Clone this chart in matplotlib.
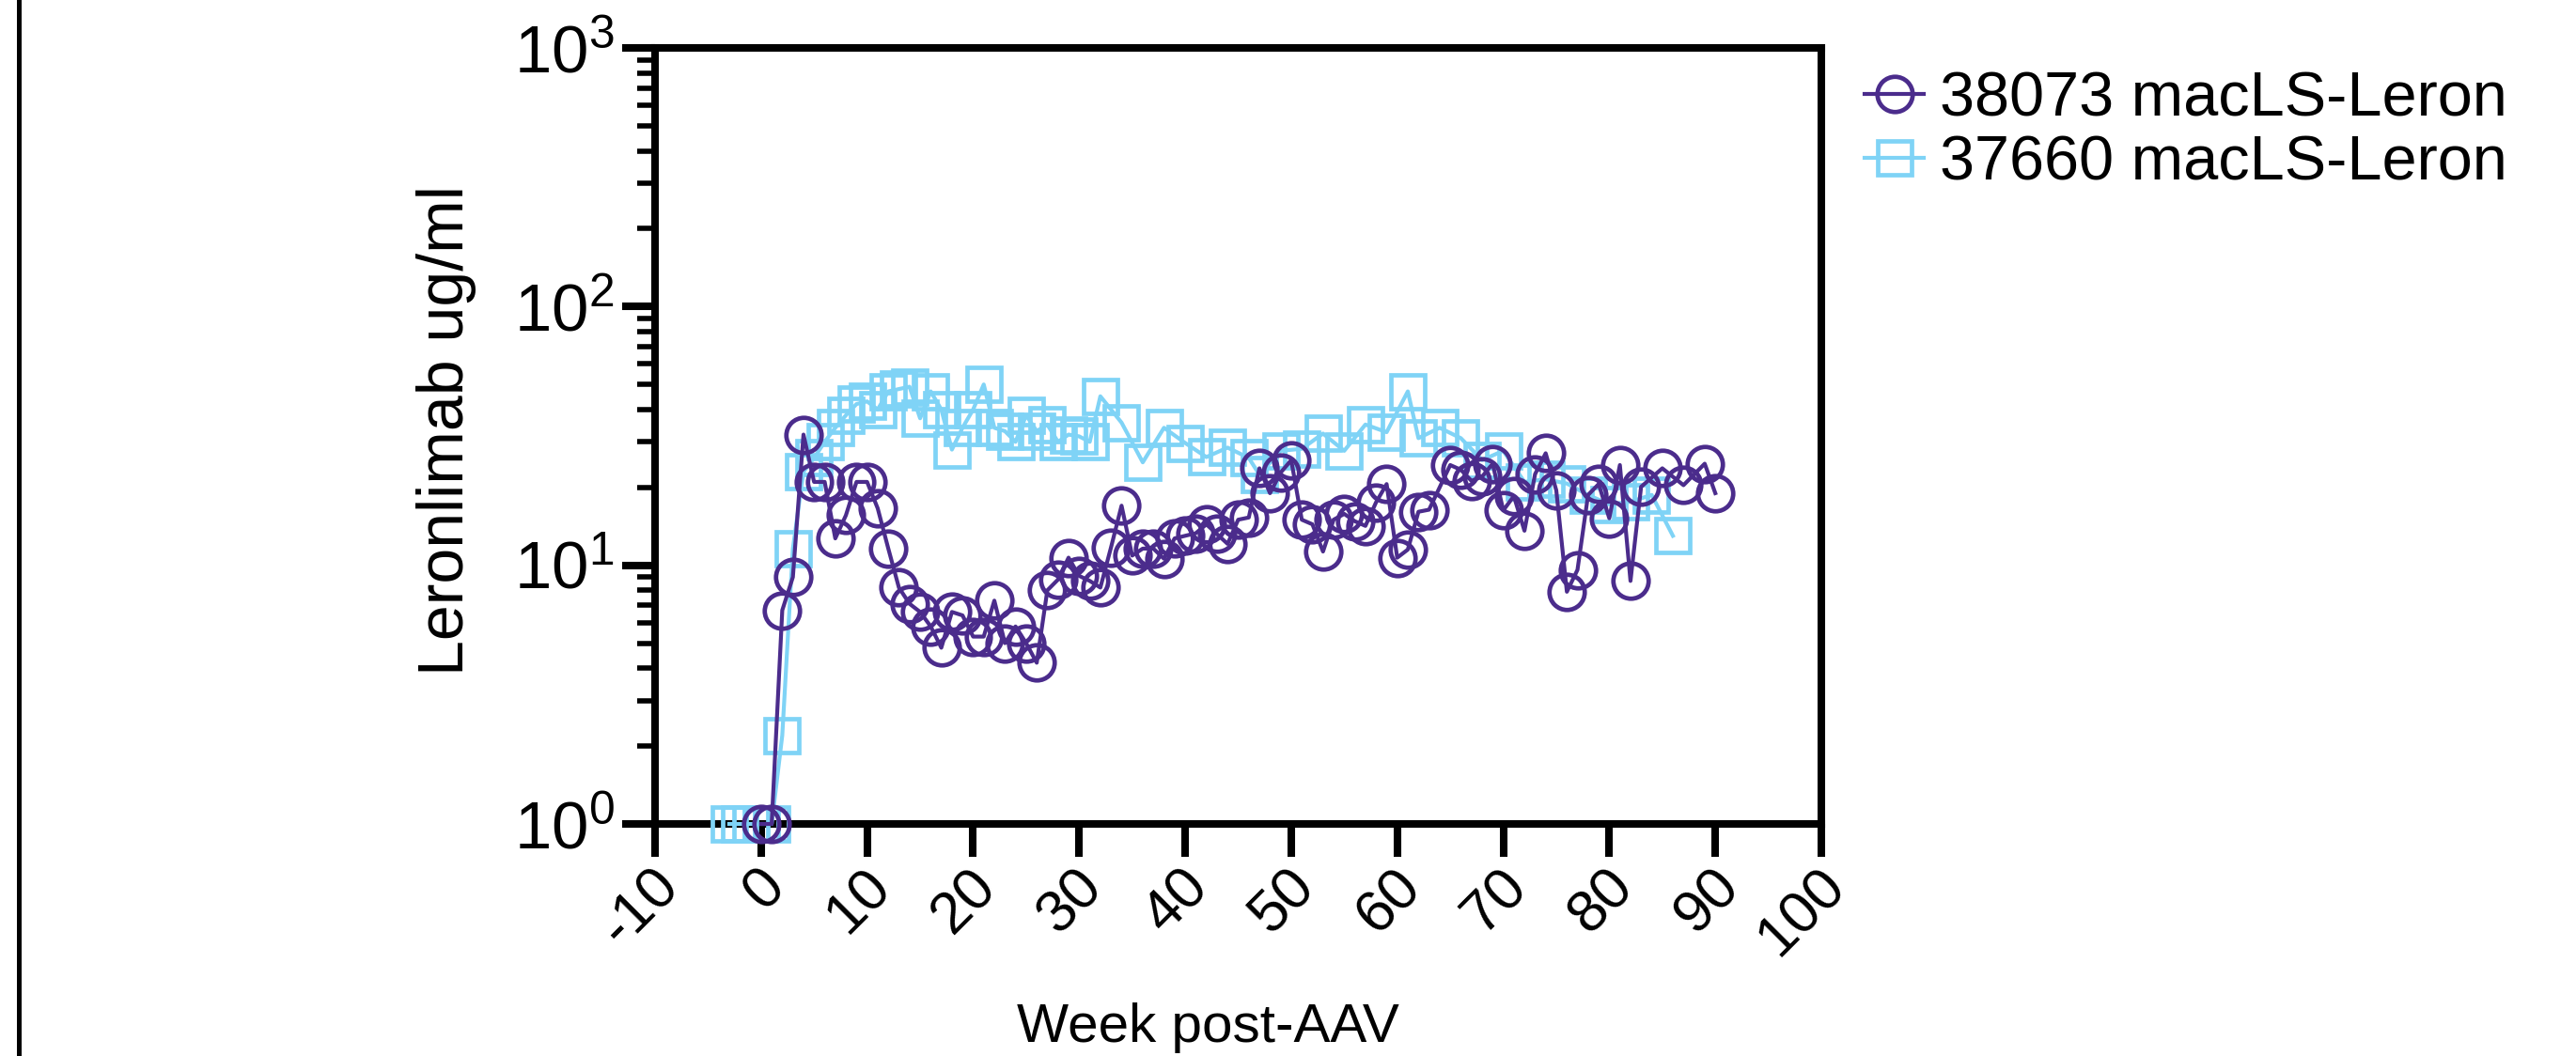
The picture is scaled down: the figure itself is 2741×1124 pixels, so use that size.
import matplotlib
matplotlib.use("Agg")
import matplotlib.pyplot as plt
from matplotlib.lines import Line2D
from matplotlib.transforms import ScaledTranslation
from matplotlib.ticker import FixedLocator, LogLocator, NullFormatter

# ---------------- data ----------------
series_names = ["38073 macLS-Leron", "37660 macLS-Leron"]

p_weeks = [0, 1, 2, 3, 4, 5, 6, 7, 8, 9, 10, 11, 12, 13, 14, 15, 16, 17, 18, 19,
           20, 21, 22, 23, 24, 25, 26, 27, 28, 29, 30, 31, 32, 33, 34, 35, 36, 37, 38, 39,
           40, 41, 42, 43, 44, 45, 46, 47, 48, 49, 50, 51, 52, 53, 54, 55, 56, 57, 58, 59,
           60, 61, 62, 63, 65, 66, 67, 68, 69, 70, 71, 72, 73, 74, 75, 76, 77, 78, 79,
           80, 81, 82, 83, 85, 87, 89, 90]
p_vals = [1, 1, 6.7, 9.0, 32, 21, 21, 12.7, 15.6, 21,
          21, 16.6, 11.6, 8.2, 7.1, 6.6, 5.8, 4.8, 6.6, 6.4,
          5.3, 5.3, 7.3, 5.0, 5.8, 5.0, 4.2, 8.0, 8.8, 10.7,
          9.1, 8.7, 8.2, 11.7, 17.0, 10.9, 11.6, 11.6, 10.6, 12.7,
          13.0, 13.3, 14.4, 13.2, 12.1, 15.0, 15.3, 23.7, 19.0, 22.8,
          25.5, 15.0, 14.4, 11.3, 15.0, 15.8, 14.8, 14.2, 17.5, 20.6,
          10.7, 11.5, 16.1, 16.4, 24.4, 23.4, 21.2, 22, 24.7,
          16.3, 18.5, 13.6, 22.5, 27.1, 19.5, 7.9, 9.6, 18.7, 20.6,
          15.2, 24.4, 8.7, 20.1, 23.7, 20.4, 24.7, 19.0]

b_weeks = [-3, -2, -1, 0, 1, 2, 3, 4, 5, 6, 7, 8, 9, 10, 11, 12, 13, 14, 15, 16,
           17, 18, 19, 20, 21, 22, 23, 24, 25, 26, 27, 28, 29, 30, 31, 32, 34, 36, 38, 40,
           42, 44, 46, 47, 49, 51, 53, 55, 57, 59, 61, 62, 64, 66, 68, 70, 72, 74, 76, 78,
           80, 82, 84, 86]
b_vals = [1, 1, 1, 1, 1, 2.2, 11.6, 23, 26, 30, 34, 38, 42, 43, 40, 47, 48, 49, 37, 47,
          40, 28, 34, 40, 50, 34, 33, 30, 38, 33, 35, 30, 32, 31.5, 30, 45, 35.6, 25, 34, 29.7,
          26.2, 28.5, 26, 22.4, 27.7, 28.2, 32.3, 27.7, 35, 32.7, 47, 31, 34, 31, 25.5, 27.7, 21, 21.5, 20.7, 18.7,
          17.2, 17.6, 18.7, 13]

x_ticks = [-10, 0, 10, 20, 30, 40, 50, 60, 70, 80, 90, 100]
x_tick_labels = ["-10", "0", "10", "20", "30", "40", "50", "60", "70", "80", "90", "100"]
y_ticks = [1, 10, 100, 1000]
y_tick_labels = [r"$\mathregular{10^{0}}$", r"$\mathregular{10^{1}}$",
                 r"$\mathregular{10^{2}}$", r"$\mathregular{10^{3}}$"]

x_label = "Week post-AAV"
y_label = "Leronlimab ug/ml"

purple = "#4B2C8C"
lightblue = "#7FD3F6"

# ---------------- style ----------------
plt.rcParams["font.family"] = ["Liberation Sans", "DejaVu Sans"]
plt.rcParams["mathtext.fontset"] = "custom"
plt.rcParams["mathtext.rm"] = "Liberation Sans"
plt.rcParams["mathtext.it"] = "Liberation Sans:italic"
plt.rcParams["mathtext.bf"] = "Liberation Sans:bold"

W, H = 2741, 1124
fig = plt.figure(figsize=(W / 100, H / 100), dpi=100)
fig.patch.set_facecolor("white")

ax_l, ax_r, ax_t, ax_b = 697, 1938, 51, 877
ax = fig.add_axes([ax_l / W, 1 - ax_b / H, (ax_r - ax_l) / W, (ax_b - ax_t) / H])

ms = 27
mew = 3.4
lw = 3.0

hb, = ax.plot(b_weeks, b_vals, color=lightblue, lw=lw, marker="s", ms=ms * 0.95,
              mfc="none", mec=lightblue, mew=mew, clip_on=False, zorder=3)
hp, = ax.plot(p_weeks, p_vals, color=purple, lw=lw, marker="o", ms=ms,
              mfc="none", mec=purple, mew=mew, clip_on=False, zorder=4)

ax.set_yscale("log")
ax.set_xlim(-10, 100)
ax.set_ylim(1, 1000)

ax.xaxis.set_major_locator(FixedLocator(x_ticks))
ax.set_xticklabels(x_tick_labels)
ax.yaxis.set_major_locator(FixedLocator(y_ticks))
ax.set_yticklabels(y_tick_labels)
ax.yaxis.set_minor_locator(LogLocator(base=10, subs=range(2, 10)))
ax.yaxis.set_minor_formatter(NullFormatter())

for s in ax.spines.values():
    s.set_linewidth(5.8)
    s.set_color("black")

ax.tick_params(axis="both", which="major", direction="out", length=25, width=5.8,
               color="black")
ax.tick_params(axis="y", which="minor", direction="out", length=14, width=4, color="black")
ax.tick_params(axis="y", which="major", pad=6, labelsize=51)
ax.tick_params(axis="x", which="major", pad=4, labelsize=45)

offset = ScaledTranslation(0.16, -0.17, fig.dpi_scale_trans)
for lab in ax.get_xticklabels():
    lab.set_rotation(45)
    lab.set_ha("right")
    lab.set_va("center")
    lab.set_rotation_mode("anchor")
    lab.set_transform(lab.get_transform() + offset)

ax.set_xlabel(x_label, fontsize=42)
ax.xaxis.set_label_coords((1285 - ax_l) / (ax_r - ax_l), (ax_b - 1067) / (ax_b - ax_t))
ax.xaxis.label.set_va("top")

ax.set_ylabel(y_label, fontsize=49)
ax.yaxis.set_label_coords((507 - ax_l) / (ax_r - ax_l), 0.507)

leg = fig.legend([hp, hb], series_names, loc="upper left",
                 bbox_to_anchor=(1984 / W, 1 - 75 / H), frameon=False,
                 fontsize=48, handlelength=0.95, handletextpad=0.25,
                 labelspacing=0.1, borderpad=0, borderaxespad=0,
                 markerscale=1.0)

# panel border line at far left
fig.add_artist(Line2D([20 / W, 20 / W], [0, 1], transform=fig.transFigure,
                      color="black", lw=3.6))

fig.savefig("out.png", dpi=100, facecolor="white")
